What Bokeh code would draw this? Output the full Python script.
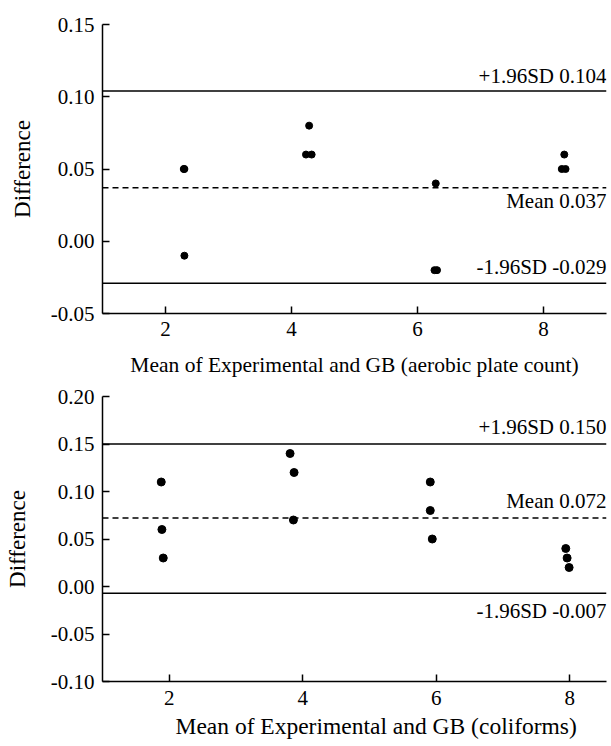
from bokeh.plotting import figure
from bokeh.layouts import column
from bokeh.models import Label, Span, FixedTicker, PrintfTickFormatter, Range1d, Title
from bokeh.embed import file_html
from bokeh.resources import INLINE

FONT = "Liberation Serif"

# ---- Panel A: aerobic plate count ----
apc_x = [2.29, 2.30, 2.30, 4.28, 4.23, 4.32, 6.29, 6.27, 6.31, 8.33, 8.29, 8.35]
apc_diff = [0.05, 0.05, -0.01, 0.08, 0.06, 0.06, 0.04, -0.02, -0.02, 0.06, 0.05, 0.05]
apc_limits = [0.104, 0.037, -0.029]          # +1.96SD, mean, -1.96SD
apc_labels = ["+1.96SD 0.104", "Mean 0.037", "-1.96SD -0.029"]
apc_yticks = [-0.05, 0.0, 0.05, 0.10, 0.15]

# ---- Panel B: coliforms ----
col_x = [1.88, 1.89, 1.91, 3.81, 3.87, 3.86, 5.91, 5.91, 5.94, 7.94, 7.96, 7.99]
col_diff = [0.11, 0.06, 0.03, 0.14, 0.12, 0.07, 0.11, 0.08, 0.05, 0.04, 0.03, 0.02]
col_limits = [0.150, 0.072, -0.007]
col_labels = ["+1.96SD 0.150", "Mean 0.072", "-1.96SD -0.007"]
col_yticks = [-0.10, -0.05, 0.0, 0.05, 0.10, 0.15, 0.20]

xticks = [2, 4, 6, 8]


def make_panel(xs, ys, limits, labels, yticks, xr, yr, height,
               borders, offsets, msize, fs, ys_title):
    bl, br, bt, bb = borders
    p = figure(width=611, height=height, output_backend="svg", toolbar_location=None,
               x_range=Range1d(*xr), y_range=Range1d(*yr),
               min_border_left=bl, min_border_right=br,
               min_border_top=bt, min_border_bottom=bb)
    p.outline_line_color = None
    p.grid.visible = False
    p.background_fill_color = "white"
    p.border_fill_color = "white"

    p.scatter(xs, ys, size=msize, color="black", marker="circle")

    dashes = ["solid", "6 4", "solid"]
    for val, lab, dash, off in zip(limits, labels, dashes, offsets):
        p.add_layout(Span(location=val, dimension="width", line_color="black",
                          line_width=1.5, line_dash=dash))
        p.add_layout(Label(x=xr[1], y=val, text=lab, text_align="right",
                           text_baseline="alphabetic", y_offset=off,
                           text_font=FONT, text_font_size=fs, text_color="black"))

    for ax in (p.xaxis[0], p.yaxis[0]):
        ax.axis_line_width = 1.5
        ax.axis_line_color = "black"
        ax.major_tick_in = 7
        ax.major_tick_out = 0
        ax.major_tick_line_width = 1.5
        ax.major_tick_line_color = "black"
        ax.minor_tick_line_color = None
        ax.major_label_text_font = FONT
        ax.major_label_text_font_size = fs
        ax.major_label_text_color = "black"
        ax.axis_label_text_font = FONT
        ax.axis_label_text_font_style = "normal"
        ax.axis_label_text_color = "black"

    p.xaxis.ticker = FixedTicker(ticks=xticks)
    p.xaxis.axis_label_text_font_size = fs
    p.yaxis.ticker = FixedTicker(ticks=yticks)
    p.yaxis.formatter = PrintfTickFormatter(format="%.2f")
    p.yaxis.axis_label = "Difference"
    p.yaxis.axis_label_text_font_size = "23px"
    p.yaxis.major_label_standoff = 8
    p.yaxis.axis_label_standoff = ys_title
    return p


p1 = make_panel(apc_x, apc_diff, apc_limits, apc_labels, apc_yticks,
                (1.0, 9.0), (-0.05, 0.15),
                383, (102, 5, 24, 70), [15, -13, 16], 7, "21px", 13)
p1.xaxis.axis_label = "Mean of Experimental and GB (aerobic plate count)"
p1.xaxis.major_label_standoff = 8
p1.xaxis.axis_label_standoff = 14
p1.xaxis.axis_label_text_font_size = "21.5px"

p2 = make_panel(col_x, col_diff, col_limits, col_labels, col_yticks,
                (1.0, 8.55), (-0.10, 0.20),
                363, (100, 0, 13, 65), [17, 17, -18], 8, "21px", 18)
p2.xaxis.major_label_standoff = 9
p2.add_layout(Title(text="Mean of Experimental and GB (coliforms)", align="left",
                    offset=73, standoff=6, text_font=FONT, text_font_size="23.5px",
                    text_font_style="normal", text_color="black"), "below")

layout = column(p1, p2, spacing=0)
open("out.html", "w").write(file_html(layout, INLINE))
